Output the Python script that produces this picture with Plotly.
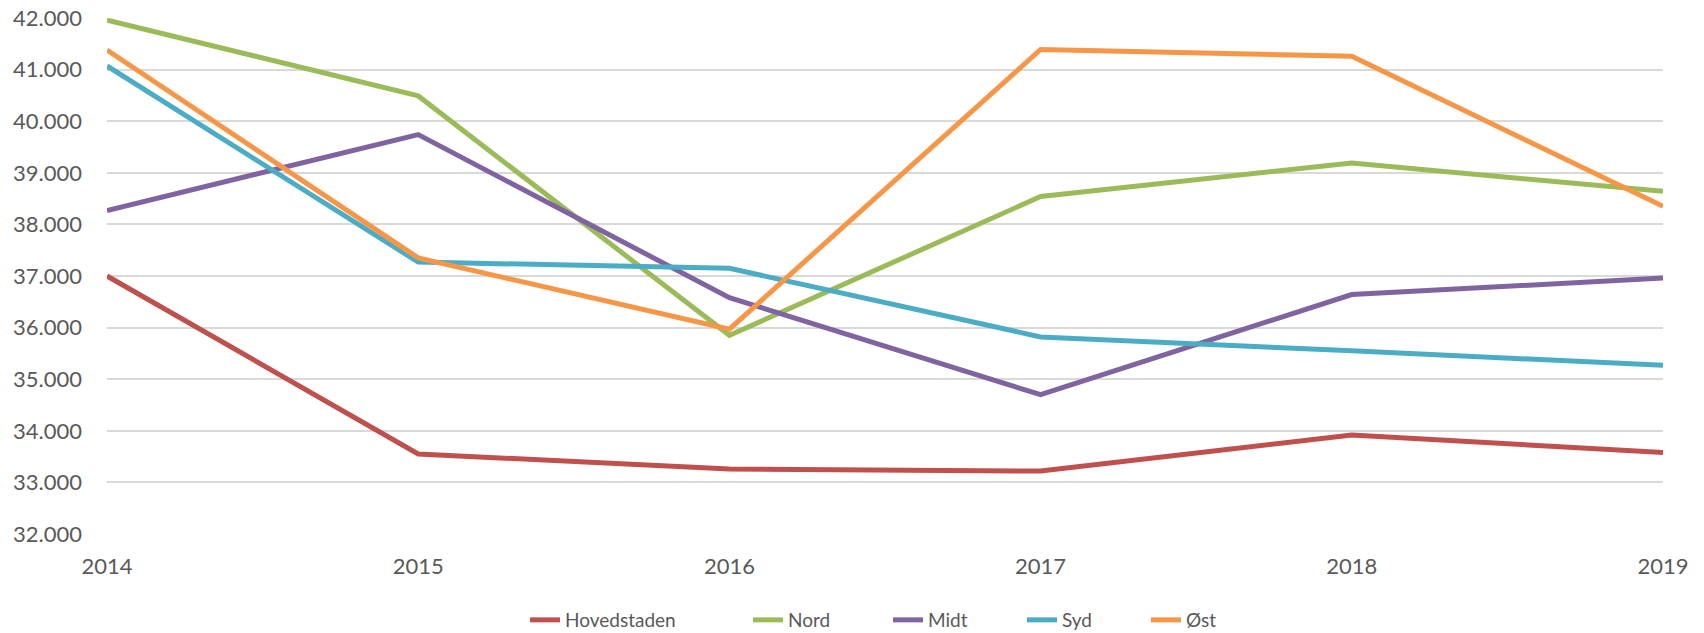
import plotly.graph_objects as go

years = [2014, 2015, 2016, 2017, 2018, 2019]
series_names = ["Hovedstaden", "Nord", "Midt", "Syd", "Øst"]
hovedstaden = [37000, 33550, 33260, 33220, 33920, 33580]
nord = [41960, 40490, 35850, 38540, 39190, 38640]
midt = [38270, 39740, 36580, 34700, 36640, 36960]
syd = [41070, 37270, 37150, 35820, 35550, 35270]
oest = [41380, 37350, 35970, 41390, 41260, 38350]
colors = ["#C0504D", "#9BBB59", "#8064A2", "#4BACC6", "#F79646"]
y_ticks = [32000, 33000, 34000, 35000, 36000, 37000, 38000, 39000, 40000, 41000, 42000]

values = [hovedstaden, nord, midt, syd, oest]
# pixel x where each legend text should start (container coords)
legend_text_px = [567, 790, 930, 1064, 1188]
W, H = 1704, 633

fig = go.Figure()
legend_ids = ["legend", "legend2", "legend3", "legend4", "legend5"]
for name, vals, col, lid in zip(series_names, values, colors, legend_ids):
    fig.add_trace(go.Scatter(
        x=years, y=vals, name=name, mode="lines",
        line=dict(color=col, width=5),
        legend=lid,
    ))

font_family = "Lato, Calibri, Carlito, sans-serif"
layout_legends = {}
for lid, tx in zip(legend_ids, legend_text_px):
    layout_legends[lid] = dict(
        orientation="h", xref="container", yref="container",
        x=(tx - 42) / W, xanchor="left",
        y=1 - 620 / H, yanchor="middle",
        font=dict(size=19, color="#595959"),
        bgcolor="rgba(0,0,0,0)", borderwidth=0,
    )

fig.update_layout(
    width=W, height=H,
    margin=dict(l=107, r=41, t=18, b=99, autoexpand=False),
    paper_bgcolor="white", plot_bgcolor="white",
    separators=",.",
    font=dict(family=font_family, size=22, color="#595959"),
    showlegend=True,
    xaxis=dict(
        range=[2014, 2019], tickvals=years, ticktext=[str(y) for y in years],
        showgrid=False, zeroline=False, showline=False, ticks="",
        ticklabelstandoff=17,
        tickfont=dict(size=22, color="#595959"),
    ),
    yaxis=dict(
        range=[32000, 42000], tickvals=y_ticks, tickformat=",d",
        showgrid=True, gridcolor="#D9D9D9", gridwidth=1.5,
        zeroline=False, showline=False, ticks="",
        ticklabelstandoff=24,
        tickfont=dict(size=22, color="#595959"),
    ),
    **layout_legends,
)

fig.write_html(
    "out.html",
    config={"displayModeBar": False},
    post_script="document.body.style.margin='0';",
)
